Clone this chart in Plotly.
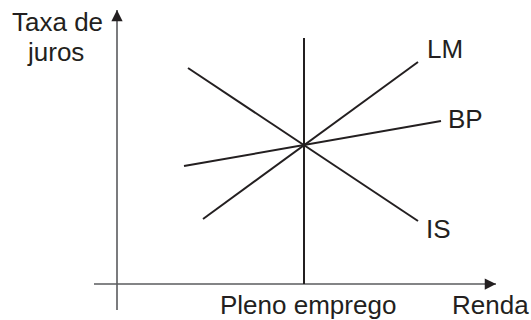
import plotly.graph_objects as go

# Curve endpoints (Renda on x, Taxa de juros on y, arbitrary units)
is_x = [3.55, 15.05]
is_y = [10.8, 3.15]
lm_x = [4.3, 15.05]
lm_y = [3.25, 11.1]
bp_x = [3.35, 16.2]
bp_y = [5.9, 8.15]
pleno_x = [9.35, 9.35]
pleno_y = [0.0, 12.3]

# Axes extents
xaxis_ext = [-1.15, 18.95]
yaxis_ext = [-1.3, 13.7]

INK = "#231f20"
AXIS = "#5a5b5e"
FONT = "Liberation Sans, Arial, sans-serif"

# pixel -> data helpers (only for label placement)
def dx(px):
    return (px - 117) / 20.0

def dy(py):
    return (284 - py) / 20.0

fig = go.Figure()

# axes lines
fig.add_trace(go.Scatter(x=xaxis_ext, y=[0, 0], mode="lines",
                         line=dict(color=AXIS, width=1.6), hoverinfo="skip"))
fig.add_trace(go.Scatter(x=[0, 0], y=yaxis_ext, mode="lines",
                         line=dict(color=AXIS, width=1.6), hoverinfo="skip"))

# full-employment line
fig.add_trace(go.Scatter(x=pleno_x, y=pleno_y, mode="lines",
                         line=dict(color=INK, width=2), hoverinfo="skip"))

for xs, ys in [(is_x, is_y), (lm_x, lm_y), (bp_x, bp_y)]:
    fig.add_trace(go.Scatter(x=xs, y=ys, mode="lines",
                             line=dict(color=INK, width=2), hoverinfo="skip"))

# arrowheads
fig.add_annotation(x=xaxis_ext[1], y=0, ax=-9, ay=0, xref="x", yref="y",
                   showarrow=True, arrowhead=2, arrowsize=1.5, arrowwidth=1.5,
                   arrowcolor=INK, text="", standoff=0)
fig.add_annotation(x=0, y=yaxis_ext[1], ax=0, ay=9, xref="x", yref="y",
                   showarrow=True, arrowhead=2, arrowsize=1.5, arrowwidth=1.5,
                   arrowcolor=INK, text="", standoff=0)

def label(text, px, py):
    fig.add_annotation(x=dx(px), y=dy(py), text=text, showarrow=False,
                       xanchor="center", yanchor="middle",
                       font=dict(family=FONT, size=26, color=INK))

label("Taxa de", 57, 22)
label("juros", 55, 52)
label("LM", 445, 49)
label("BP", 465, 119)
label("IS", 438, 229)
label("Pleno emprego", 308, 305)
label("Renda", 490, 305)

fig.update_layout(
    width=531, height=320,
    margin=dict(l=0, r=0, t=0, b=0),
    paper_bgcolor="white", plot_bgcolor="white",
    showlegend=False,
    xaxis=dict(range=[dx(0), dx(531)], visible=False, fixedrange=True),
    yaxis=dict(range=[dy(320), dy(0)], visible=False, fixedrange=True),
)

fig.write_html(
    "out.html",
    config={"displayModeBar": False},
    post_script="document.body.style.margin='0';document.body.style.overflow='hidden';",
)
